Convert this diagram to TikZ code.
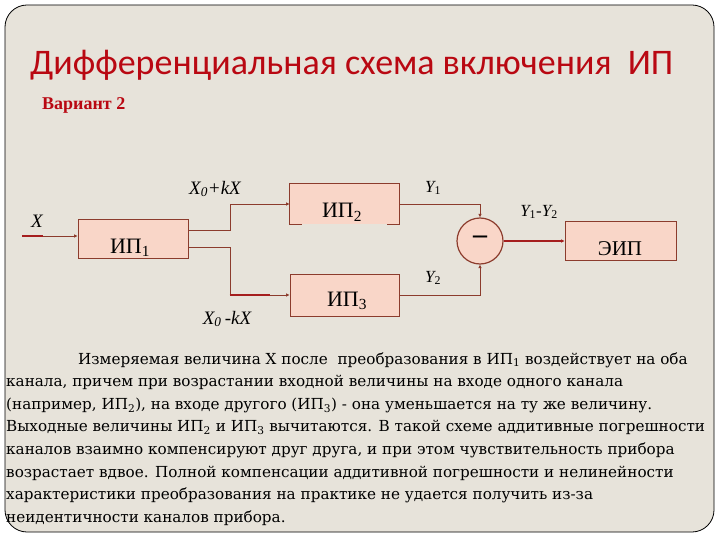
\documentclass[tikz,border=0pt]{standalone}
\usepackage{fontspec}
\setmainfont{Liberation Serif}
\newfontfamily\titlefont{Carlito}
\newfontfamily\bodyfont{DejaVu Serif}
\usetikzlibrary{arrows.meta}
\definecolor{bg}{RGB}{231,227,218}
\definecolor{titlered}{RGB}{185,8,18}
\definecolor{boxfill}{RGB}{249,214,200}
\definecolor{boxline}{RGB}{140,60,45}
\definecolor{wire}{RGB}{140,60,45}
\definecolor{thickwire}{RGB}{165,30,30}
\begin{document}
\begin{tikzpicture}[x=1pt,y=-1pt,
  blk/.style={draw=boxline, fill=boxfill, line width=0.8pt, inner sep=0pt},
  blktext/.style={anchor=base, inner sep=0pt, font=\fontsize{22}{24}\selectfont},
  conn/.style={draw=wire, line width=0.8pt, -{Latex[length=3.5pt,width=3.5pt]}},
  thick/.style={draw=thickwire, line width=2pt},
  lbl/.style={inner sep=0pt, font=\fontsize{19}{21}\selectfont\itshape},
  bodyline/.style={anchor=base west, inner sep=0pt, font=\bodyfont\fontsize{15.2}{18}\selectfont}
]
\useasboundingbox (0,0) rectangle (720,540);
\fill[white] (0,0) rectangle (720,540);
\draw[fill=bg, draw=black, line width=0.8pt, rounded corners=22pt] (5,5) rectangle (714,532);

% title
\node[anchor=base west, inner sep=0pt, text=titlered, font=\titlefont\fontsize{36}{40}\selectfont] (title) at (30,75) {Дифференциальная схема включения\ \ ИП};
\node[anchor=base west, inner sep=0pt, text=titlered, font=\bfseries\fontsize{18}{20}\selectfont] (var) at (42,110) {Вариант 2};

% blocks
\node[blk, minimum width=110pt, minimum height=39pt] (ip1) at (133,238.5) {};
\node[blk, minimum width=109pt, minimum height=40pt, draw=none] (ip2) at (344.5,204) {};
\draw[boxline, line width=0.8pt] ([xshift=12pt]ip2.south west) -- (ip2.south west) -- (ip2.north west) -- (ip2.north east) -- (ip2.south east) -- ([xshift=-12pt]ip2.south east);
\node[blk, minimum width=109pt, minimum height=42pt] (ip3) at (344.5,295) {};
\node[blk, minimum width=111pt, minimum height=39pt] (eip) at (620.5,241) {};
\node[blk, circle, minimum size=46pt, line width=1.2pt] (sub) at (480,241) {};

\node[blktext] (t1) at (130,253) {ИП\textsubscript{1}};
\node[blktext] (t2) at (342,218) {ИП\textsubscript{2}};
\node[blktext] (t3) at (347,306) {ИП\textsubscript{3}};
\node[blktext, font=\fontsize{21}{24}\selectfont] (t4) at (620,255) {ЭИП};
\node[inner sep=0pt, font=\bfseries\fontsize{28}{30}\selectfont] (minus) at (480,240) {–};

% connectors
\coordinate (xin) at (22,236);
\draw[conn] (xin) -- (xin -| ip1.west);
\draw[thick] (xin) -- ++(21,0);
\draw[conn] ([yshift=8.5pt]ip1.east) -- ++(42,0) |- (ip2.west);
\draw[conn] ([yshift=-8.5pt]ip1.east) -- ++(42,0) |- (ip3.west);
\draw[thick] ([xshift=-60pt]ip3.west) -- ([xshift=-20pt]ip3.west);
\draw[conn] (ip2.east) -| (sub.north);
\draw[conn] (ip3.east) -| (sub.south);
\draw[conn, draw=thickwire, line width=2pt] (sub.east) -- (eip.west);

% labels
\node[lbl] (lx) at (37,221) {X};
\node[lbl] (lp) at (215,189) {X\textsubscript{0}+kX};
\node[lbl] (lm) at (227,319) {X\textsubscript{0}\,-kX};
\node[lbl, font=\fontsize{17}{19}\selectfont\itshape] (ly1) at (433,188) {Y\textsubscript{\upshape 1}};
\node[lbl, font=\fontsize{17}{19}\selectfont\itshape] (ly2) at (433,278) {Y\textsubscript{\upshape 2}};
\node[lbl, font=\fontsize{17}{19}\selectfont\itshape] (ly12) at (539,212) {Y\textsubscript{\upshape 1}-Y\textsubscript{\upshape 2}};

% body text
\node[bodyline] (b1) at (78,364) {Измеряемая величина X после\ \ преобразования в ИП\textsubscript{1} воздействует на оба};
\node[bodyline] (b2) at (6,386.6) {канала, причем при возрастании входной величины на входе одного канала};
\node[bodyline] (b3) at (6,409.2) {(например, ИП\textsubscript{2}), на входе другого (ИП\textsubscript{3}) - она уменьшается на ту же величину.};
\node[bodyline] (b4) at (6,431.8) {Выходные величины ИП\textsubscript{2} и ИП\textsubscript{3} вычитаются. В такой схеме аддитивные погрешности};
\node[bodyline] (b5) at (6,454.4) {каналов взаимно компенсируют друг друга, и при этом чувствительность прибора};
\node[bodyline] (b6) at (6,477) {возрастает вдвое. Полной компенсации аддитивной погрешности и нелинейности};
\node[bodyline] (b7) at (6,499.6) {характеристики преобразования на практике не удается получить из-за};
\node[bodyline] (b8) at (6,522.2) {неидентичности каналов прибора.};
\end{tikzpicture}
\end{document}
